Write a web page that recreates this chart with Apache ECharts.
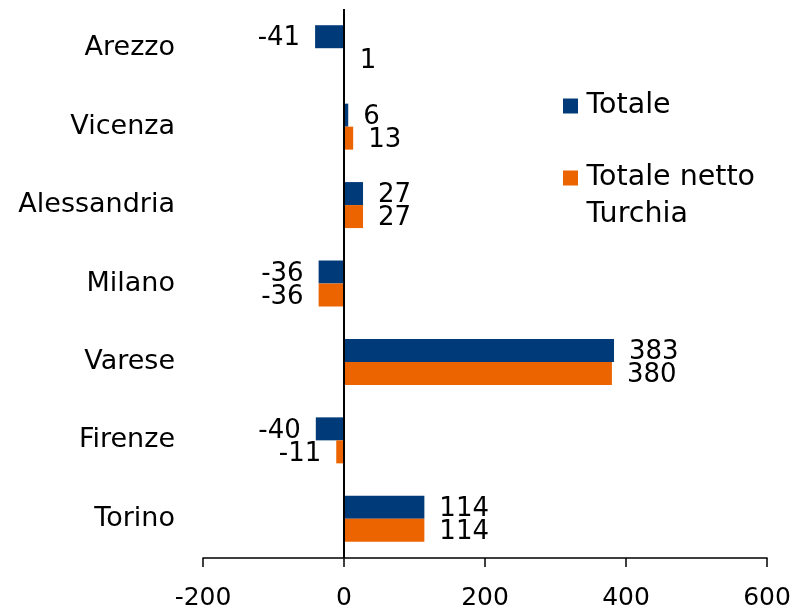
<!DOCTYPE html>
<html>
<head>
<meta charset="utf-8">
<script src="https://cdn.jsdelivr.net/npm/echarts@6/dist/echarts.min.js"></script>
<style>html,body{margin:0;padding:0;background:#fff}#c{width:794px;height:608px}</style>
</head>
<body>
<div id="c"></div>
<script>
const categories = ['Arezzo', 'Vicenza', 'Alessandria', 'Milano', 'Varese', 'Firenze', 'Torino'];
const totale = [-41, 6, 27, -36, 383, -40, 114];
const totaleNetto = [1, 13, 27, -36, 380, -11, 114];
const seriesNames = ['Totale', 'Totale netto\nTurchia'];
const xTicks = { min: -200, max: 600, interval: 200 };

const FONT = 'DejaVu Sans';
const colors = ['#003A79', '#EB6400'];
const squareIcon = 'path://M0,0 L15,0 L15,15 L0,15 Z';

function toData(arr) {
  return arr.map(v => ({ value: v, label: { position: v < 0 ? 'left' : 'right' } }));
}

const legendText = { fontFamily: FONT, fontSize: 28.5, color: '#000', lineHeight: 37 };
const barLabel = { show: true, fontFamily: FONT, fontSize: 26, color: '#000', distance: 15, offset: [0, 2] };

const chart = echarts.init(document.getElementById('c'), null, { renderer: 'canvas' });
chart.setOption({
  animation: false,
  textStyle: { fontFamily: FONT },
  grid: { left: 203, right: 27, top: 9, bottom: 50, containLabel: false, outerBoundsMode: 'none' },
  legend: [
    {
      data: [seriesNames[0]], orient: 'vertical', left: 563, top: 87.5, padding: 0,
      itemWidth: 22, itemHeight: 15, icon: squareIcon, symbolKeepAspect: true,
      textStyle: legendText
    },
    {
      data: [seriesNames[1]], orient: 'vertical', left: 563, top: 122.5, padding: 0,
      itemWidth: 22, itemHeight: 15, icon: squareIcon, symbolKeepAspect: true,
      formatter: name => '\n' + name,
      textStyle: legendText
    }
  ],
  xAxis: {
    type: 'value', min: xTicks.min, max: xTicks.max, interval: xTicks.interval,
    axisLine: { show: true, onZero: false, lineStyle: { color: '#000', width: 1.5 } },
    axisTick: { show: true, length: 9, lineStyle: { color: '#000', width: 1.5 } },
    splitLine: { show: false },
    axisLabel: { fontFamily: FONT, fontSize: 25, color: '#000', margin: 28 }
  },
  yAxis: {
    type: 'category', data: categories, inverse: true,
    axisLine: { show: false, onZero: false },
    axisTick: { show: false },
    axisLabel: { fontFamily: FONT, fontSize: 27, color: '#000', margin: 28, padding: [4, 0, 0, 0] }
  },
  series: [
    {
      name: seriesNames[0], type: 'bar', data: toData(totale), barWidth: 23, barGap: '0%',
      itemStyle: { color: colors[0] },
      label: barLabel,
      markLine: {
        silent: true, symbol: 'none', animation: false,
        label: { show: false },
        lineStyle: { color: '#000', width: 2, type: 'solid' },
        data: [{ xAxis: 0 }]
      }
    },
    {
      name: seriesNames[1], type: 'bar', data: toData(totaleNetto), barWidth: 23, barGap: '0%',
      itemStyle: { color: colors[1] },
      label: barLabel
    }
  ]
});
</script>
</body>
</html>
